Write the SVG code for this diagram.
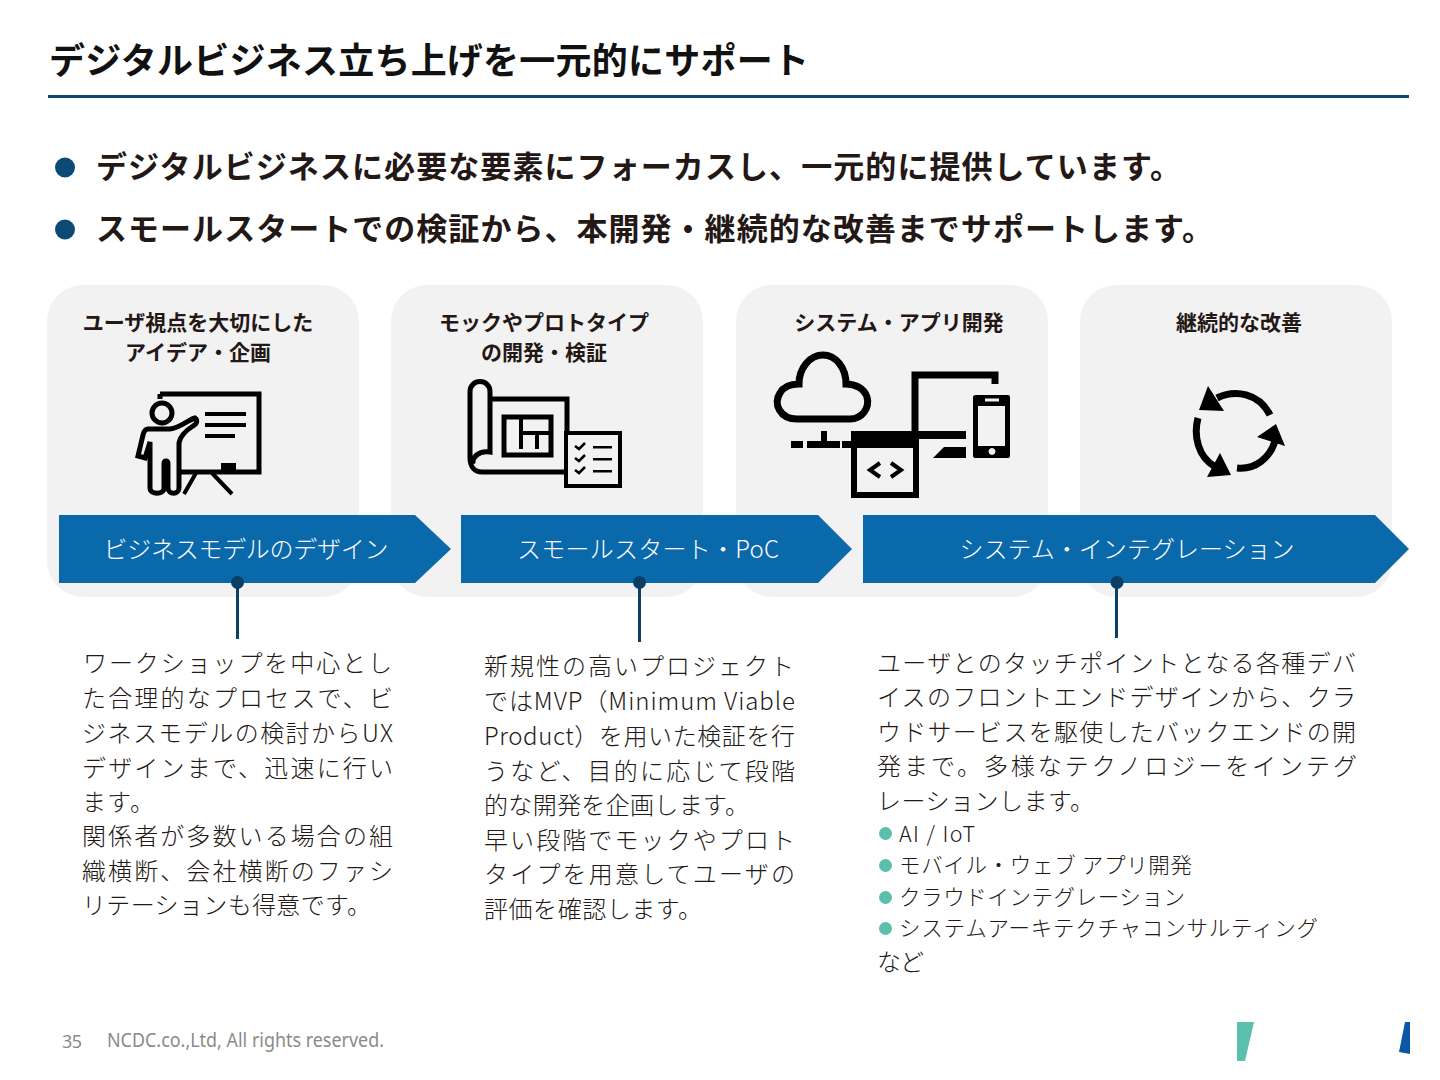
<svg xmlns="http://www.w3.org/2000/svg" width="1440" height="1080" viewBox="0 0 1440 1080">
<style>
text{font-family:"Noto Sans CJK JP","Noto Sans",sans-serif;fill:#231815}
.title{font-size:36px;font-weight:700;fill:#111}
.lead{font-size:31px;font-weight:700}
.head{font-size:21px;font-weight:700;text-anchor:middle}
.bar{font-size:24px;fill:#fff;text-anchor:middle;font-weight:300}
.body{font-size:24px;font-weight:300}
.sub{font-size:21.5px;font-weight:300}
.card{fill:#f2f2f2}
.arrow{fill:#0a69ab}
.ln{fill:none;stroke:#000;stroke-width:5}
.k{fill:#000}
.conn{stroke:#0b3f63;stroke-width:3;fill:none}
.dot{fill:#0b3f63}
.mint{fill:#5bbfae}
</style>
<rect width="1440" height="1080" fill="#fff"/>
<g id="header">
<text class="title" x="49" y="74" textLength="760">デジタルビジネス立ち上げを一元的にサポート</text>
<rect x="48" y="95" width="1361" height="3" fill="#0b4a74"/>
</g>
<g id="lead">
<circle cx="65" cy="167.500" r="10" fill="#0b4a74"/>
<text class="lead" x="96" y="178" textLength="1085">デジタルビジネスに必要な要素にフォーカスし、一元的に提供しています。</text>
<circle cx="65" cy="229.500" r="10" fill="#0b4a74"/>
<text class="lead" x="96" y="240" textLength="1117">スモールスタートでの検証から、本開発・継続的な改善までサポートします。</text>
</g>
<g id="card1">
<rect class="card" x="47" y="285" width="312" height="312" rx="36"/>
<text class="head" x="198" y="330">ユーザ視点を大切にした</text>
<text class="head" x="198" y="360">アイデア・企画</text>
<path class="ln" d="M160 394H259V472H180M160 394v5"/>
<rect class="k" x="221" y="463" width="15" height="9"/>
<path class="k" d="M205 412h41v4h-41zM205 423h41v4h-41zM205 434h30v4h-30z"/>
<path class="ln" style="stroke-width:4" d="M196 473L184 494M212 473L232 494"/>
<circle class="ln" style="stroke-width:5" cx="162" cy="413" r="10"/>
<path class="ln" style="stroke-width:5" d="M148 429H170C180 428 188 420 195 418C198 420 197 424 193 426C185 431 180 437 179 443V488C179 495 168 495 168 488V464C168 460 164 460 164 464V488C164 495 150 495 150 488V442L145 458L138 456L143 435C144 431 146 429 148 429Z"/>
</g>
<g id="card2">
<rect class="card" x="391" y="285" width="312" height="312" rx="36"/>
<text class="head" x="544" y="330">モックやプロトタイプ</text>
<text class="head" x="544" y="360">の開発・検証</text>
<path class="ln" d="M490 399H567V472H482C474 472 470 466 470 458V392C470 378 490 378 490 392V452C478 450 472 458 473 464"/>
<rect class="ln" x="504" y="417" width="47" height="38"/>
<path class="ln" style="stroke-width:4" d="M521 417V449M521 433H551M537 433V449"/>
<rect x="566" y="433" width="54" height="53" fill="#f2f2f2" stroke="#000" stroke-width="4"/>
<path class="k" d="M593 446h19v2.500h-19zM593 458h19v2.500h-19zM593 470h19v2.500h-19z"/>
<path class="ln" style="stroke-width:2.500" d="M575 446l4 3 6-6M575 458l4 3 6-6M575 470l4 3 6-6"/>
</g>
<g id="card3">
<rect class="card" x="736" y="285" width="312" height="312" rx="36"/>
<text class="head" x="899" y="330">システム・アプリ開発</text>
<path class="ln" style="stroke-width:7" d="M797 419C780 419 773 404 780 393C784 386 791 384 799 384C799 368 810 355 823 355C836 355 846 368 846 384C855 384 864 388 867 397C870 408 862 419 850 419Z"/>
<path class="k" d="M791 441h12v7h-12zM807 441h33v7h-33zM821 431h6v10h-6zM842 441h10v7h-10z"/>
<path class="k" d="M851 431H966V439H919V447H851Z"/>
<path class="ln" style="stroke-width:7" d="M915 431V375H995V384"/>
<rect class="ln" x="854" y="445" width="62" height="50" style="stroke-width:6"/>
<path class="ln" style="stroke-width:4" d="M880 463L870 470L880 477M891 463L901 470L891 477"/>
<path class="k" d="M933 458L944 447H966V458Z"/>
<path class="k" fill-rule="evenodd" d="M976 395H1008Q1010 395 1010 397V456Q1010 458 1008 458H976Q973 458 973 456V397Q973 395 976 395ZM978 406V446H1005V406ZM985 398.500v3h14v-3ZM992 448a3.500 3.500 0 1 0 .01 0Z"/>
</g>
<g id="card4">
<rect class="card" x="1080" y="285" width="312" height="312" rx="36"/>
<text class="head" x="1239" y="330">継続的な改善</text>
<path class="ln" style="stroke-width:7" d="M1270 415C1259 393 1235 389 1217 398M1198 418C1193 437 1199 457 1214 466M1237 468C1255 470 1270 458 1275 441"/>
<path class="k" d="M1208 386L1199 410L1224 411ZM1220 453L1207 477L1231 475ZM1276 424L1257 437L1285 446Z"/>
</g>
<g id="bars">
<path class="arrow" d="M59 515H415L451 549L415 583H59Z"/>
<text class="bar" x="246" y="558" textLength="285">ビジネスモデルのデザイン</text>
<path class="arrow" d="M461 515H818L852 549L818 583H461Z"/>
<text class="bar" x="648" y="558" textLength="262">スモールスタート・PoC</text>
<path class="arrow" d="M863 515H1375L1409 549L1375 583H863Z"/>
<text class="bar" x="1127" y="558" textLength="335">システム・インテグレーション</text>
</g>
<g id="connectors">
<circle class="dot" cx="237.500" cy="582.500" r="6.500"/>
<path class="conn" d="M237.500 583V639"/>
<circle class="dot" cx="639.500" cy="582.500" r="6.500"/>
<path class="conn" d="M639.500 583V642"/>
<circle class="dot" cx="1117" cy="582.500" r="6.500"/>
<path class="conn" d="M1116.500 583V638"/>
</g>
<g id="text1">
<text class="body" x="83" y="672" textLength="309">ワークショップを中心とし</text>
<text class="body" x="82" y="707" textLength="311">た合理的なプロセスで、ビ</text>
<text class="body" x="82" y="742" textLength="311">ジネスモデルの検討からUX</text>
<text class="body" x="82" y="777" textLength="311">デザインまで、迅速に行い</text>
<text class="body" x="82" y="811" textLength="72">ます。</text>
<text class="body" x="82" y="845" textLength="311">関係者が多数いる場合の組</text>
<text class="body" x="82" y="880" textLength="311">織横断、会社横断のファシ</text>
<text class="body" x="82" y="914" textLength="289">リテーションも得意です。</text>
</g>
<g id="text2">
<text class="body" x="484" y="675" textLength="310">新規性の高いプロジェクト</text>
<text class="body" x="484" y="710" textLength="311">ではMVP（Minimum Viable</text>
<text class="body" x="484" y="745" textLength="311">Product）を用いた検証を行</text>
<text class="body" x="484" y="780" textLength="311">うなど、目的に応じて段階</text>
<text class="body" x="484" y="814" textLength="265">的な開発を企画します。</text>
<text class="body" x="484" y="849" textLength="311">早い段階でモックやプロト</text>
<text class="body" x="484" y="883" textLength="311">タイプを用意してユーザの</text>
<text class="body" x="484" y="918" textLength="218">評価を確認します。</text>
</g>
<g id="text3">
<text class="body" x="877" y="672" textLength="479">ユーザとのタッチポイントとなる各種デバ</text>
<text class="body" x="877" y="706" textLength="479">イスのフロントエンドデザインから、クラ</text>
<text class="body" x="877" y="741" textLength="479">ウドサービスを駆使したバックエンドの開</text>
<text class="body" x="877" y="775" textLength="480">発まで。多様なテクノロジーをインテグ</text>
<text class="body" x="877" y="810" textLength="217">レーションします。</text>
<circle class="mint" cx="885.500" cy="833.500" r="6.500"/>
<text class="sub" x="899" y="842" textLength="76">AI / IoT</text>
<circle class="mint" cx="885.500" cy="865.500" r="6.500"/>
<text class="sub" x="899" y="873" textLength="293">モバイル・ウェブ アプリ開発</text>
<circle class="mint" cx="885.500" cy="897.500" r="6.500"/>
<text class="sub" x="899" y="905" textLength="286">クラウドインテグレーション</text>
<circle class="mint" cx="885.500" cy="928.500" r="6.500"/>
<text class="sub" x="899" y="936" textLength="419">システムアーキテクチャコンサルティング</text>
<text class="body" x="877" y="971" textLength="47">など</text>
</g>
<g id="footer">
<text x="62" y="1048" font-size="18" style="fill:#8a8a8a;font-family:'Noto Sans',sans-serif" textLength="20">35</text>
<text x="107" y="1047" font-size="20" style="fill:#8a8a8a;font-family:'Noto Sans',sans-serif" textLength="277" lengthAdjust="spacingAndGlyphs">NCDC.co.,Ltd, All rights reserved.</text>
<path class="mint" d="M1237 1022H1254L1245 1061H1237Z"/>
<path d="M1405 1022H1410V1054L1399 1052Z" fill="#0a57a4"/>
</g>
</svg>
